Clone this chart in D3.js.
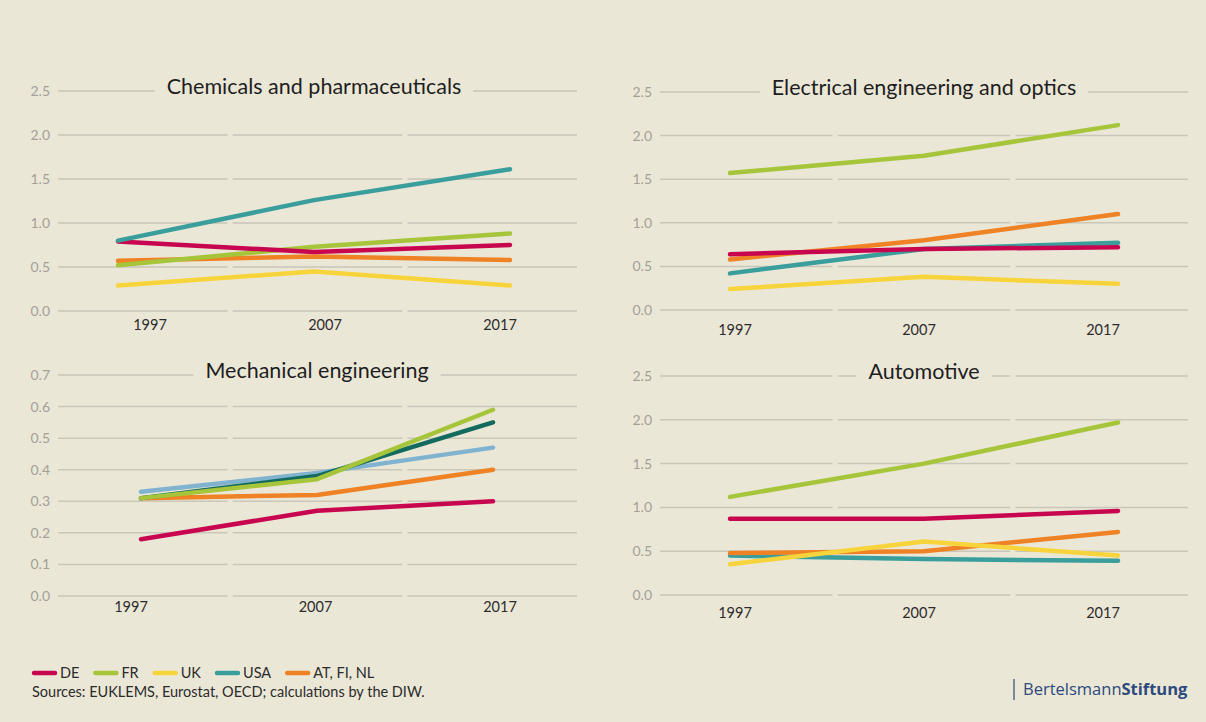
<!DOCTYPE html>
<html>
<head>
<meta charset="utf-8">
<script src="https://cdn.jsdelivr.net/npm/d3@7"></script>
<style>
  body { margin: 0; background: #ebe7d7; }
  svg { display: block; font-family: Lato, "Open Sans", sans-serif; }
</style>
</head>
<body>
<svg id="chart" width="1206" height="722"></svg>
<script>
const years = ["1997", "2007", "2017"];

// series per panel
const chemDE = [0.79, 0.67, 0.75];
const chemFR = [0.52, 0.73, 0.88];
const chemUK = [0.29, 0.45, 0.29];
const chemUSA = [0.80, 1.26, 1.61];
const chemAT = [0.57, 0.62, 0.58];

const elecDE = [0.64, 0.70, 0.72];
const elecFR = [1.57, 1.77, 2.12];
const elecUK = [0.24, 0.38, 0.30];
const elecUSA = [0.42, 0.70, 0.77];
const elecAT = [0.58, 0.80, 1.10];

const mechDE = [0.18, 0.27, 0.30];
const mechLight = [0.33, 0.39, 0.47];
const mechDark = [0.31, 0.38, 0.55];
const mechFR = [0.31, 0.37, 0.59];
const mechAT = [0.31, 0.32, 0.40];

const autoDE = [0.87, 0.87, 0.96];
const autoFR = [1.12, 1.50, 1.97];
const autoUK = [0.35, 0.61, 0.45];
const autoUSA = [0.45, 0.41, 0.39];
const autoAT = [0.48, 0.50, 0.72];

const legendNames = ["DE", "FR", "UK", "USA", "AT, FI, NL"];

const colors = {
  DE: "#c8064f", FR: "#a6c53b", UK: "#f8d43c", USA: "#3a9e9c",
  AT: "#ee8224", dark: "#136b5f", light: "#80b3cf"
};
const legendColors = [colors.DE, colors.FR, colors.UK, colors.USA, colors.AT];

const panels = [
  { title: "Chemicals and pharmaceuticals", x0: 58, x1: 577, yTop: 91, yBot: 311, max: 2.5, step: 0.5,
    lineR: [118, 510], labR: [150, 500], labY: 330,
    series: [["AT", chemAT], ["UK", chemUK], ["FR", chemFR], ["DE", chemDE], ["USA", chemUSA]] },
  { title: "Electrical engineering and optics", x0: 660, x1: 1188, yTop: 92, yBot: 310, max: 2.5, step: 0.5,
    lineR: [730, 1118], labR: [735, 1103], labY: 335,
    series: [["UK", elecUK], ["USA", elecUSA], ["AT", elecAT], ["DE", elecDE], ["FR", elecFR]] },
  { title: "Mechanical engineering", x0: 58, x1: 577, yTop: 375, yBot: 596, max: 0.7, step: 0.1,
    lineR: [141, 493], labR: [131, 500], labY: 612,
    series: [["DE", mechDE], ["AT", mechAT], ["light", mechLight], ["dark", mechDark], ["FR", mechFR]] },
  { title: "Automotive", x0: 660, x1: 1188, yTop: 376, yBot: 595, max: 2.5, step: 0.5,
    lineR: [730, 1118], labR: [735, 1103], labY: 618,
    series: [["USA", autoUSA], ["AT", autoAT], ["UK", autoUK], ["DE", autoDE], ["FR", autoFR]] }
];

const bg = "#ebe7d7";
const svg = d3.select("#chart");
svg.append("rect").attr("width", 1206).attr("height", 722).attr("fill", bg);

panels.forEach(p => {
  const g = svg.append("g");
  const y = d3.scaleLinear().domain([0, p.max]).range([p.yBot, p.yTop]);
  const band = d3.scaleBand().domain(years).range([p.x0, p.x1]).paddingInner(0.03);
  const xLine = d3.scalePoint().domain(years).range(p.lineR);
  const xLab = d3.scalePoint().domain(years).range(p.labR);
  const ticks = d3.range(0, p.max + p.step / 2, p.step);

  // gridlines, broken at each band
  ticks.forEach(t => {
    g.selectAll(null).data(years).join("line")
      .attr("x1", d => band(d)).attr("x2", d => band(d) + band.bandwidth())
      .attr("y1", y(t)).attr("y2", y(t))
      .attr("stroke", "#c9c6ba").attr("stroke-width", 1.5);
  });

  g.selectAll(".tick").data(ticks).join("text")
    .attr("x", p.x0 - 8).attr("y", d => y(d) + 5)
    .attr("text-anchor", "end").attr("font-size", 14).attr("fill", "#a3a098")
    .text(d => d.toFixed(1));

  g.selectAll(".yr").data(years).join("text")
    .attr("x", d => xLab(d)).attr("y", p.labY)
    .attr("text-anchor", "middle").attr("font-size", 14.5).attr("fill", "#2b2b2b")
    .text(d => d);

  // title sitting on the top gridline
  const cx = (p.lineR[0] + p.lineR[1]) / 2;
  const title = g.append("text")
    .attr("x", cx).attr("y", p.yTop + 3)
    .attr("text-anchor", "middle").attr("font-size", 21.5).attr("fill", "#1e1e1e")
    .text(p.title);
  const bb = title.node().getBBox();
  g.insert("rect", "text")
    .attr("x", bb.x - 12).attr("y", p.yTop - 3).attr("width", bb.width + 24).attr("height", 6)
    .attr("fill", bg);

  const line = d3.line().x((d, i) => xLine(years[i])).y(d => y(d));
  g.selectAll(".series").data(p.series).join("path")
    .attr("d", d => line(d[1]))
    .attr("fill", "none").attr("stroke", d => colors[d[0]])
    .attr("stroke-width", 4.5).attr("stroke-linecap", "round").attr("stroke-linejoin", "round");
});

// legend
const legend = svg.append("g");
let lx = 32;
legendNames.forEach((name, i) => {
  legend.append("line")
    .attr("x1", lx + 2).attr("x2", lx + 23).attr("y1", 673).attr("y2", 673)
    .attr("stroke", legendColors[i]).attr("stroke-width", 4.5).attr("stroke-linecap", "round");
  const t = legend.append("text")
    .attr("x", lx + 28).attr("y", 678).attr("font-size", 14.5).attr("fill", "#2b2b2b")
    .text(name);
  lx += 28 + t.node().getComputedTextLength() + 14;
});

svg.append("text")
  .attr("x", 32).attr("y", 697).attr("font-size", 14.5).attr("fill", "#2b2b2b")
  .text("Sources: EUKLEMS, Eurostat, OECD; calculations by the DIW.");

// logo
svg.append("line")
  .attr("x1", 1014).attr("x2", 1014).attr("y1", 679).attr("y2", 700)
  .attr("stroke", "#2d4a7c").attr("stroke-width", 1.2);
const logo = svg.append("text")
  .attr("x", 1023).attr("y", 695).attr("font-size", 16.5).attr("fill", "#2d4a7c")
  .attr("font-family", "'Open Sans', Lato, sans-serif");
logo.append("tspan").text("Bertelsmann");
logo.append("tspan").attr("font-weight", "bold").text("Stiftung");
</script>
</body>
</html>
